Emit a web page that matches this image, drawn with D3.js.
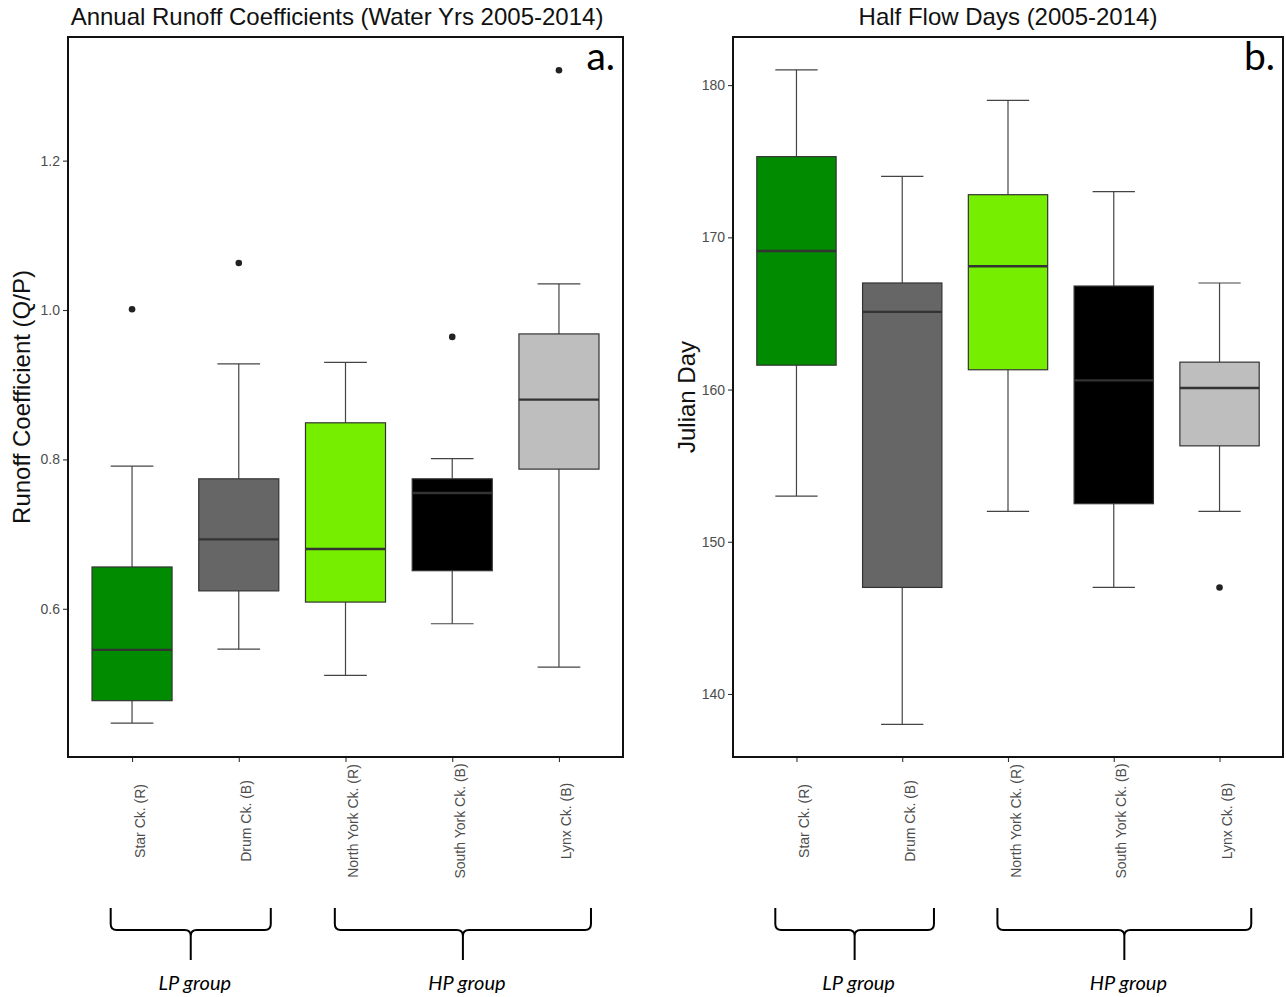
<!DOCTYPE html>
<html>
<head>
<meta charset="utf-8">
<script src="https://cdn.jsdelivr.net/npm/d3@7"></script>
<style>
  body { margin: 0; background: #fff; }
  text { font-family: "Liberation Sans", Arial, sans-serif; }
</style>
</head>
<body>
<svg id="chart" width="1286" height="997"></svg>
<script>
// Sites (R = reference, B = burned)
const sites = ["Star Ck. (R)", "Drum Ck. (B)", "North York Ck. (R)", "South York Ck. (B)", "Lynx Ck. (B)"];
const siteFills = ["#008B00", "#666666", "#76EE00", "#000000", "#BEBEBE"];

// Annual runoff coefficients (Q/P), water years 2005-2014: box-plot summaries
const rcLower   = [0.447, 0.546, 0.511, 0.580, 0.522];
const rcQ1      = [0.477, 0.624, 0.609, 0.651, 0.787];
const rcMedian  = [0.545, 0.693, 0.680, 0.755, 0.880];
const rcQ3      = [0.656, 0.774, 0.849, 0.774, 0.968];
const rcUpper   = [0.791, 0.928, 0.930, 0.801, 1.035];
const rcOutlierSite  = [0, 1, 3, 4];
const rcOutlierValue = [1.001, 1.063, 0.964, 1.321];
const rcTicks = [0.6, 0.8, 1.0, 1.2];

// Half flow days (Julian day), 2005-2014: box-plot summaries
const hfLower   = [153, 138, 152, 147, 152];
const hfQ1      = [161.6, 147.0, 161.3, 152.5, 156.3];
const hfMedian  = [169.1, 165.1, 168.1, 160.6, 160.1];
const hfQ3      = [175.3, 167.0, 172.8, 166.8, 161.8];
const hfUpper   = [181, 174, 179, 173, 167];
const hfOutlierSite  = [4];
const hfOutlierValue = [147];
const hfTicks = [140, 150, 160, 170, 180];

// Site groups marked with braces below the axes (in site-position units)
const groupNames = ["LP group", "HP group"];
const groupStart = [0.8, 2.9];
const groupEnd   = [2.3, 5.3];

const svg = d3.select("#chart");
svg.append("rect").attr("width", 1286).attr("height", 997).attr("fill", "#fff");

function buildStats(lo, q1, med, q3, hi) {
  return sites.map((s, i) => ({ i, site: s, lo: lo[i], q1: q1[i], med: med[i], q3: q3[i], hi: hi[i], fill: siteFills[i] }));
}

function drawPanel(cfg) {
  const { left, right, top, bottom, yDomain, ticks, fmt, stats, outSite, outVal,
          title, titleX, yTitle, yTitleX, tag } = cfg;
  const g = svg.append("g");

  // discrete positions 1..n with 0.6 padding on each side
  const x = d3.scaleLinear().domain([0.4, sites.length + 0.6]).range([left, right]);
  const y = d3.scaleLinear().domain(yDomain).range([bottom, top]);
  const unit = x(2) - x(1);
  const boxW = 0.75 * unit, capW = 0.4 * unit;

  // axes
  const ya = g.append("g").attr("transform", `translate(${left},0)`)
    .call(d3.axisLeft(y).tickValues(ticks).tickFormat(fmt).tickSize(5).tickPadding(3));
  ya.select(".domain").remove();
  ya.selectAll(".tick line").attr("stroke", "#333").attr("stroke-width", 1.1);
  ya.selectAll(".tick text").attr("fill", "#4D4D4D").style("font-size", "14px")
    .style("font-family", "Liberation Sans, Arial, sans-serif");

  const xa = g.append("g").attr("transform", `translate(0,${bottom})`)
    .call(d3.axisBottom(x).tickValues(d3.range(1, sites.length + 1)).tickFormat(d => sites[d - 1]).tickSize(5));
  xa.select(".domain").remove();
  xa.selectAll(".tick line").attr("stroke", "#333").attr("stroke-width", 1.1);
  xa.selectAll(".tick text")
    .attr("transform", "rotate(-90)")
    .attr("x", -64).attr("y", 12).attr("dy", null)
    .attr("text-anchor", "middle")
    .attr("fill", "#4D4D4D").style("font-size", "14px")
    .style("font-family", "Liberation Sans, Arial, sans-serif");

  // whiskers
  const bx = g.append("g").selectAll("g.box").data(stats).join("g").attr("class", "box");
  bx.append("line")
    .attr("x1", d => x(d.i + 1)).attr("x2", d => x(d.i + 1))
    .attr("y1", d => y(d.hi)).attr("y2", d => y(d.q3))
    .attr("stroke", "#444").attr("stroke-width", 1.2);
  bx.append("line")
    .attr("x1", d => x(d.i + 1)).attr("x2", d => x(d.i + 1))
    .attr("y1", d => y(d.q1)).attr("y2", d => y(d.lo))
    .attr("stroke", "#444").attr("stroke-width", 1.2);
  ["hi", "lo"].forEach(k => {
    bx.append("line")
      .attr("x1", d => x(d.i + 1) - capW / 2).attr("x2", d => x(d.i + 1) + capW / 2)
      .attr("y1", d => y(d[k])).attr("y2", d => y(d[k]))
      .attr("stroke", "#444").attr("stroke-width", 1.2);
  });
  // boxes
  bx.append("rect")
    .attr("x", d => x(d.i + 1) - boxW / 2).attr("width", boxW)
    .attr("y", d => y(d.q3)).attr("height", d => y(d.q1) - y(d.q3))
    .attr("fill", d => d.fill).attr("stroke", "#333").attr("stroke-width", 1.2);
  bx.append("line")
    .attr("x1", d => x(d.i + 1) - boxW / 2).attr("x2", d => x(d.i + 1) + boxW / 2)
    .attr("y1", d => y(d.med)).attr("y2", d => y(d.med))
    .attr("stroke", "#333").attr("stroke-width", 2.4);

  // outliers
  g.append("g").selectAll("circle").data(outVal).join("circle")
    .attr("cx", (v, j) => x(outSite[j] + 1)).attr("cy", v => y(v))
    .attr("r", 3.3).attr("fill", "#222");

  // panel border
  g.append("rect").attr("x", left).attr("y", top)
    .attr("width", right - left).attr("height", bottom - top)
    .attr("fill", "none").attr("stroke", "#111").attr("stroke-width", 2);

  // titles
  g.append("text").attr("x", titleX).attr("y", 25).attr("text-anchor", "middle")
    .style("font-size", "24px").attr("fill", "#111").text(title);
  g.append("text")
    .attr("transform", `translate(${yTitleX},${(top + bottom) / 2}) rotate(-90)`)
    .attr("text-anchor", "middle").style("font-size", "24px").attr("fill", "#111").text(yTitle);
  g.append("text").attr("x", right - 8).attr("y", 70).attr("text-anchor", "end")
    .style("font-family", "Lato, 'Open Sans', sans-serif").style("font-size", "39px")
    .attr("fill", "#000").text(tag);

  // group braces
  const yTopB = 908, yMid = 930, yBot = 960, r = 6;
  groupNames.forEach((name, k) => {
    const x0 = x(groupStart[k]), x1 = x(groupEnd[k]);
    const xc = (x0 + x1) / 2;
    const p = d3.path();
    p.moveTo(x0, yTopB);
    p.lineTo(x0, yMid - r);
    p.quadraticCurveTo(x0, yMid, x0 + r, yMid);
    p.lineTo(xc - r, yMid);
    p.quadraticCurveTo(xc, yMid, xc, yMid + r);
    p.lineTo(xc, yBot);
    p.moveTo(x1, yTopB);
    p.lineTo(x1, yMid - r);
    p.quadraticCurveTo(x1, yMid, x1 - r, yMid);
    p.lineTo(xc + r, yMid);
    p.quadraticCurveTo(xc, yMid, xc, yMid + r);
    g.append("path").attr("d", p.toString()).attr("fill", "none")
      .attr("stroke", "#000").attr("stroke-width", 2).attr("stroke-linejoin", "round");
    g.append("text").attr("x", xc + 4).attr("y", 990).attr("text-anchor", "middle")
      .style("font-family", "Lato, 'Open Sans', sans-serif").style("font-style", "italic")
      .style("font-size", "20px").attr("fill", "#000").text(name);
  });
}

drawPanel({
  left: 68, right: 623, top: 37, bottom: 757,
  yDomain: [0.4016, 1.3655], ticks: rcTicks, fmt: d3.format(".1f"),
  stats: buildStats(rcLower, rcQ1, rcMedian, rcQ3, rcUpper),
  outSite: rcOutlierSite, outVal: rcOutlierValue,
  title: "Annual Runoff Coefficients (Water Yrs 2005-2014)", titleX: 337,
  yTitle: "Runoff Coefficient (Q/P)", yTitleX: 30, tag: "a."
});

drawPanel({
  left: 733, right: 1283, top: 37, bottom: 757,
  yDomain: [135.86, 183.16], ticks: hfTicks, fmt: d3.format("d"),
  stats: buildStats(hfLower, hfQ1, hfMedian, hfQ3, hfUpper),
  outSite: hfOutlierSite, outVal: hfOutlierValue,
  title: "Half Flow Days (2005-2014)", titleX: 1008,
  yTitle: "Julian Day", yTitleX: 695, tag: "b."
});
</script>
</body>
</html>
